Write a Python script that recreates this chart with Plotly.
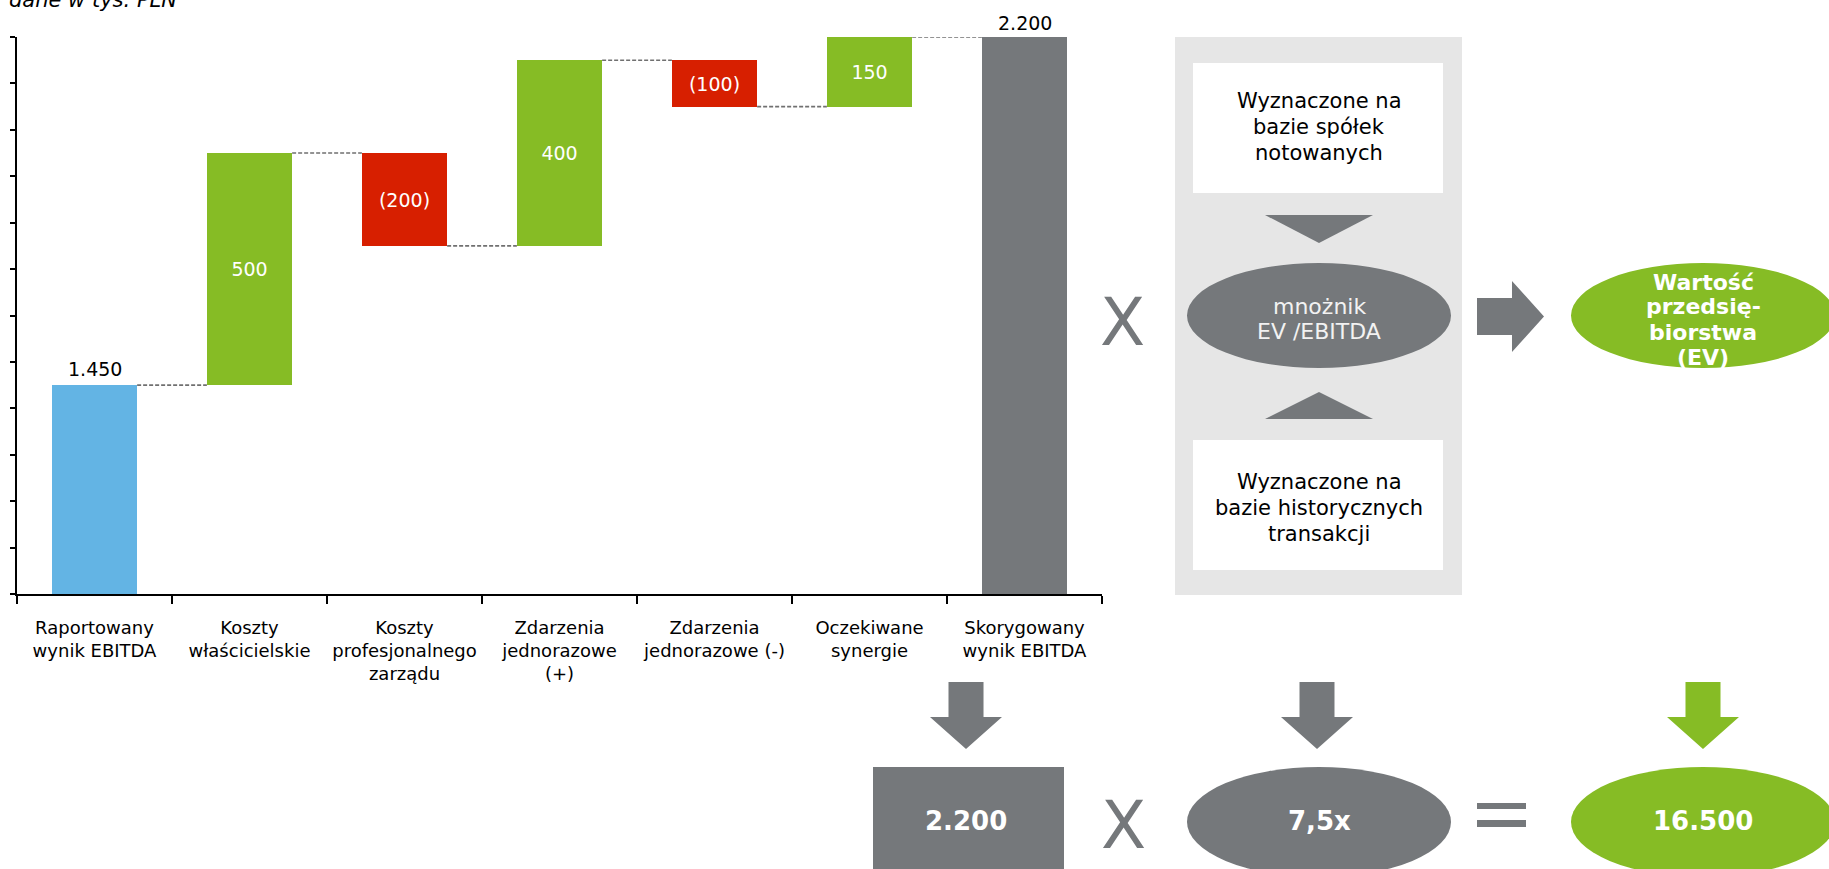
import plotly.graph_objects as go

W, H = 1829, 869

# ---------------- data ----------------
categories = [
    "Raportowany<br>wynik EBITDA",
    "Koszty<br>właścicielskie",
    "Koszty<br>profesjonalnego<br>zarządu",
    "Zdarzenia<br>jednorazowe<br>(+)",
    "Zdarzenia<br>jednorazowe (-)",
    "Oczekiwane<br>synergie",
    "Skorygowany<br>wynik EBITDA",
]
measures = ["absolute", "relative", "relative", "relative", "relative", "relative", "total"]
values = [1450, 500, -200, 400, -100, 150, 2200]
value_labels = ["1.450", "500", "(200)", "400", "(100)", "150", "2.200"]
bar_colors = ["#63B4E4", "#86BC25", "#D71F00", "#86BC25", "#D71F00", "#86BC25", "#75787B"]

y_min, y_max, y_step = 1000, 2200, 100
multiple = 7.5
unit_note = "dane w tys. PLN"

box_top_lines = ["Wyznaczone na", "bazie spółek", "notowanych"]
box_bottom_lines = ["Wyznaczone na", "bazie historycznych", "transakcji"]
multiple_lines = ["mnożnik", "EV /EBITDA"]
ev_lines = ["Wartość", "przedsię-", "biorstwa", "(EV)"]

GREEN = "#86BC25"
GRAY = "#75787B"
PANEL = "#E6E6E6"
FONT = "DejaVu Sans"


def pl_int(v):
    return f"{v:,.0f}".replace(",", ".")


adjusted = values[-1]
ev_value = adjusted * multiple
adjusted_label = pl_int(adjusted)
multiple_label = f"{multiple:.1f}".replace(".", ",") + "x"
ev_label = pl_int(ev_value)

# ---------------- waterfall geometry from data ----------------
bar_w = 0.55
bases, heights, levels = [], [], []
cum = 0
for m, v in zip(measures, values):
    if m in ("absolute", "total"):
        bases.append(0)
        heights.append(v)
        cum = v
    else:
        bases.append(cum)
        heights.append(v)
        cum += v
    levels.append(cum)

xs = list(range(len(categories)))

fig = go.Figure()

fig.add_trace(go.Bar(
    x=xs, y=heights, base=bases, width=bar_w,
    marker=dict(color=bar_colors, line=dict(width=0)),
    text=[lab if m == "relative" else "" for lab, m in zip(value_labels, measures)],
    textposition="inside", insidetextanchor="middle",
    textfont=dict(color="white", size=19, family=FONT),
    constraintext="none",
    hoverinfo="skip", showlegend=False,
))

# connectors
cx, cy = [], []
for i in range(len(xs) - 1):
    cx += [xs[i] + bar_w / 2, xs[i + 1] - bar_w / 2, None]
    cy += [levels[i], levels[i], None]
fig.add_trace(go.Scatter(
    x=cx, y=cy, mode="lines",
    line=dict(color="#707070", width=1.6, dash="4px,2px"),
    hoverinfo="skip", showlegend=False, cliponaxis=False,
))

# category labels on an overlaid axis
fig.add_trace(go.Scatter(x=xs, y=[None] * len(xs), xaxis="x2", yaxis="y",
                         showlegend=False, hoverinfo="skip"))

plot_left, plot_right, plot_top, plot_bottom = 17, 1102, 37, 594
xdom = [plot_left / W, plot_right / W]
ydom = [1 - plot_bottom / H, 1 - plot_top / H]


def px(x):
    return x / W


def py(y):
    return 1 - y / H


def path(points):
    return "M " + " L ".join(f"{px(x):.5f},{py(y):.5f}" for x, y in points) + " Z"


shapes = []


def rect(x0, y0, x1, y1, color):
    shapes.append(dict(type="rect", xref="paper", yref="paper",
                       x0=px(x0), x1=px(x1), y0=py(y1), y1=py(y0),
                       fillcolor=color, line=dict(width=0), layer="above"))


def ellipse(x0, y0, x1, y1, color):
    shapes.append(dict(type="circle", xref="paper", yref="paper",
                       x0=px(x0), x1=px(x1), y0=py(y1), y1=py(y0),
                       fillcolor=color, line=dict(width=0), layer="above"))


def poly(points, color):
    shapes.append(dict(type="path", xref="paper", yref="paper", path=path(points),
                       fillcolor=color, line=dict(width=0), layer="above"))


def down_arrow(cx_, color, top=682, neck=717, tip=749, sw=17.5, hw=36):
    poly([(cx_ - sw, top), (cx_ + sw, top), (cx_ + sw, neck), (cx_ + hw, neck),
          (cx_, tip), (cx_ - hw, neck), (cx_ - sw, neck)], color)


CX = 1319
GX = 1703
# panel
rect(1175, 37, 1462, 595, PANEL)
rect(1193, 63, 1443, 193, "white")
rect(1193, 440, 1443, 570, "white")
poly([(CX - 54, 215), (CX + 54, 215), (CX, 243)], GRAY)
poly([(CX - 54, 419), (CX + 54, 419), (CX, 392)], GRAY)
ellipse(CX - 132, 263, CX + 132, 368, GRAY)
# right arrow
poly([(1477, 298), (1512, 298), (1512, 281), (1544, 316.5), (1512, 352), (1512, 335), (1477, 335)], GRAY)
ellipse(GX - 132, 263, GX + 132, 368, GREEN)
# bottom row
down_arrow(966, GRAY)
down_arrow(CX - 2, GRAY)
down_arrow(GX, GREEN)
rect(873, 767, 1064, 885, GRAY)
ellipse(CX - 132, 767, CX + 132, 877, GRAY)
rect(1477, 803, 1526, 809, GRAY)
rect(1477, 820, 1526, 827, GRAY)
ellipse(GX - 132, 767, GX + 132, 877, GREEN)

annotations = []


def text(x, y, t, size, color, xanchor="center", yanchor="middle", xref="paper", yref="paper", yshift=0):
    annotations.append(dict(x=px(x) if xref == "paper" else x,
                            y=py(y) if yref == "paper" else y,
                            xref=xref, yref=yref, text=t, yshift=yshift,
                            showarrow=False, xanchor=xanchor, yanchor=yanchor,
                            font=dict(family=FONT, size=size, color=color)))


def lines(x, y_first, step, items, size, color, bold=False):
    for k, s in enumerate(items):
        t = f"<b>{s}</b>" if bold else s
        text(x, y_first + k * step, t, size, color)


# labels above absolute / total bars (data coordinates)
for i, m in enumerate(measures):
    if m != "relative":
        text(xs[i], levels[i], value_labels[i], 19, "black", yanchor="bottom",
             xref="x", yref="y", yshift=3 if i < len(xs) - 1 else 1)

text(7, 14, f"<i>{unit_note}</i>", 21, "black", xanchor="left", yanchor="bottom")
text(1122, 322, "X", 66, GRAY)
lines(CX, 101, 26, box_top_lines, 21, "black")
lines(CX, 307, 24, multiple_lines, 22, "#F2F2F2")
lines(CX, 482, 26, box_bottom_lines, 21, "black")
lines(GX, 282, 25, ev_lines, 22, "white", bold=True)
text(966, 821, f"<b>{adjusted_label}</b>", 26, "white")
text(1123, 825, "X", 66, GRAY)
text(CX, 821, f"<b>{multiple_label}</b>", 26, "white")
text(GX, 821, f"<b>{ev_label}</b>", 26, "white")

fig.update_layout(
    width=W, height=H,
    margin=dict(l=0, r=0, t=0, b=0),
    paper_bgcolor="white", plot_bgcolor="white",
    font=dict(family=FONT, size=18, color="black"),
    showlegend=False,
    bargap=0,
    xaxis=dict(domain=xdom, range=[-0.5, len(xs) - 0.5], type="linear",
               tickvals=[i - 0.5 for i in range(len(xs) + 1)],
               showticklabels=False, ticks="outside", ticklen=8, tickwidth=1.5,
               tickcolor="black", showline=True, linecolor="black", linewidth=2,
               showgrid=False, zeroline=False, fixedrange=True),
    xaxis2=dict(domain=xdom, range=[-0.5, len(xs) - 0.5], overlaying="x", anchor="y",
                side="bottom", tickvals=xs, ticktext=categories,
                ticks="outside", ticklen=17, tickcolor="rgba(0,0,0,0)",
                tickfont=dict(family=FONT, size=18, color="black"),
                showline=False, showgrid=False, zeroline=False, fixedrange=True),
    yaxis=dict(domain=ydom, range=[y_min, y_max], dtick=y_step, tick0=y_min,
               showticklabels=False, ticks="outside", ticklen=5, tickwidth=1.5,
               tickcolor="black", showline=True, linecolor="black", linewidth=2,
               showgrid=False, zeroline=False, fixedrange=True),
    shapes=shapes,
    annotations=annotations,
)

fig.write_html("out.html")
